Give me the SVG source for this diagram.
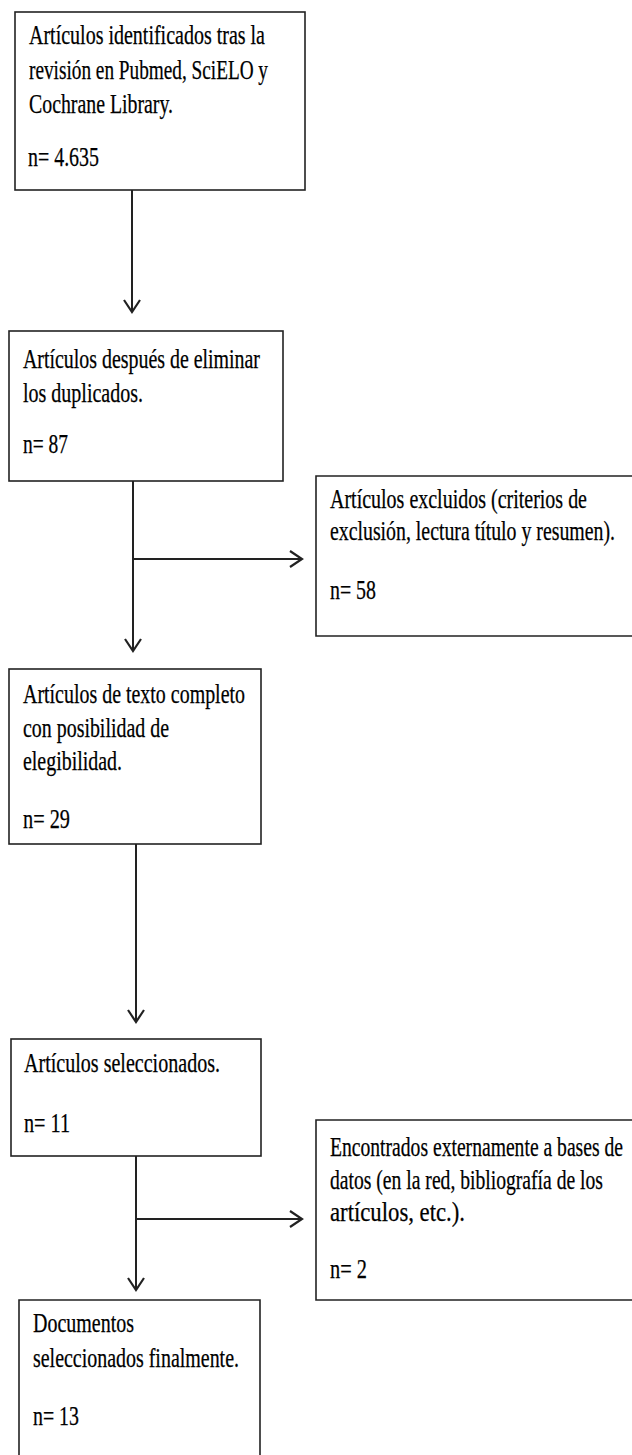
<svg xmlns="http://www.w3.org/2000/svg" width="632" height="1455" viewBox="0 0 632 1455">
<style>
.box{fill:#fff;stroke:#222;stroke-width:1.6}
.t{font-family:"Liberation Serif","Times New Roman",serif;font-size:26.5px;fill:#000;stroke:#000;stroke-width:0.25}
.c{fill:none;stroke:#222;stroke-width:2}
</style>
<defs>
<marker id="ah" markerUnits="userSpaceOnUse" markerWidth="20" markerHeight="20" viewBox="-14 -10 16 20" refX="0" refY="0" orient="auto">
<path d="M-12,-8 L0,0 L-12,8" fill="none" stroke="#222" stroke-width="2.2"/>
</marker>
</defs>
<rect width="632" height="1455" fill="#fff"/>
<g id="connectors">
<line class="c" x1="132" y1="190" x2="132" y2="312" marker-end="url(#ah)"/>
<line class="c" x1="133" y1="481" x2="133" y2="651" marker-end="url(#ah)"/>
<line class="c" x1="133" y1="559" x2="302" y2="559" marker-end="url(#ah)"/>
<line class="c" x1="136" y1="844" x2="136" y2="1022" marker-end="url(#ah)"/>
<line class="c" x1="136" y1="1156" x2="136" y2="1290" marker-end="url(#ah)"/>
<line class="c" x1="136" y1="1219" x2="302" y2="1219" marker-end="url(#ah)"/>
</g>
<g id="n1">
<rect class="box" x="15" y="12" width="290" height="178"/>
<text class="t" x="29" y="44" textLength="236" lengthAdjust="spacingAndGlyphs">Artículos identificados tras la</text>
<text class="t" x="29" y="79" textLength="239" lengthAdjust="spacingAndGlyphs">revisión en Pubmed, SciELO y</text>
<text class="t" x="29" y="113" textLength="144" lengthAdjust="spacingAndGlyphs">Cochrane Library.</text>
<text class="t" x="28" y="166" textLength="71" lengthAdjust="spacingAndGlyphs">n= 4.635</text>
</g>
<g id="n2">
<rect class="box" x="9" y="331" width="274" height="150"/>
<text class="t" x="23" y="368" textLength="237" lengthAdjust="spacingAndGlyphs">Artículos después de eliminar</text>
<text class="t" x="23" y="402" textLength="120" lengthAdjust="spacingAndGlyphs">los duplicados.</text>
<text class="t" x="23" y="453" textLength="45" lengthAdjust="spacingAndGlyphs">n= 87</text>
</g>
<g id="n3">
<path class="box" d="M632,476 H316 V636 H632"/>
<text class="t" x="330" y="508" textLength="257" lengthAdjust="spacingAndGlyphs">Artículos excluidos (criterios de</text>
<text class="t" x="330" y="540" textLength="285" lengthAdjust="spacingAndGlyphs">exclusión, lectura título y resumen).</text>
<text class="t" x="330" y="599" textLength="46" lengthAdjust="spacingAndGlyphs">n= 58</text>
</g>
<g id="n4">
<rect class="box" x="9" y="669" width="252" height="175"/>
<text class="t" x="23" y="703" textLength="222" lengthAdjust="spacingAndGlyphs">Artículos de texto completo</text>
<text class="t" x="23" y="737" textLength="146" lengthAdjust="spacingAndGlyphs">con posibilidad de</text>
<text class="t" x="23" y="770" textLength="99" lengthAdjust="spacingAndGlyphs">elegibilidad.</text>
<text class="t" x="23" y="828" textLength="47" lengthAdjust="spacingAndGlyphs">n= 29</text>
</g>
<g id="n5">
<rect class="box" x="11" y="1039" width="250" height="117"/>
<text class="t" x="24" y="1072" textLength="196" lengthAdjust="spacingAndGlyphs">Artículos seleccionados.</text>
<text class="t" x="24" y="1132" textLength="46" lengthAdjust="spacingAndGlyphs">n= 11</text>
</g>
<g id="n6">
<path class="box" d="M632,1120 H316 V1300 H632"/>
<text class="t" x="330" y="1156" textLength="293" lengthAdjust="spacingAndGlyphs">Encontrados externamente a bases de</text>
<text class="t" x="330" y="1189" textLength="273" lengthAdjust="spacingAndGlyphs">datos (en la red, bibliografía de los</text>
<text class="t" x="330" y="1221" textLength="135" lengthAdjust="spacingAndGlyphs">artículos, etc.).</text>
<text class="t" x="330" y="1278" textLength="37" lengthAdjust="spacingAndGlyphs">n= 2</text>
</g>
<g id="n7">
<path class="box" d="M19,1455 V1300 H260 V1455"/>
<text class="t" x="33" y="1332" textLength="101" lengthAdjust="spacingAndGlyphs">Documentos</text>
<text class="t" x="33" y="1367" textLength="206" lengthAdjust="spacingAndGlyphs">seleccionados finalmente.</text>
<text class="t" x="33" y="1425" textLength="46" lengthAdjust="spacingAndGlyphs">n= 13</text>
</g>
</svg>
